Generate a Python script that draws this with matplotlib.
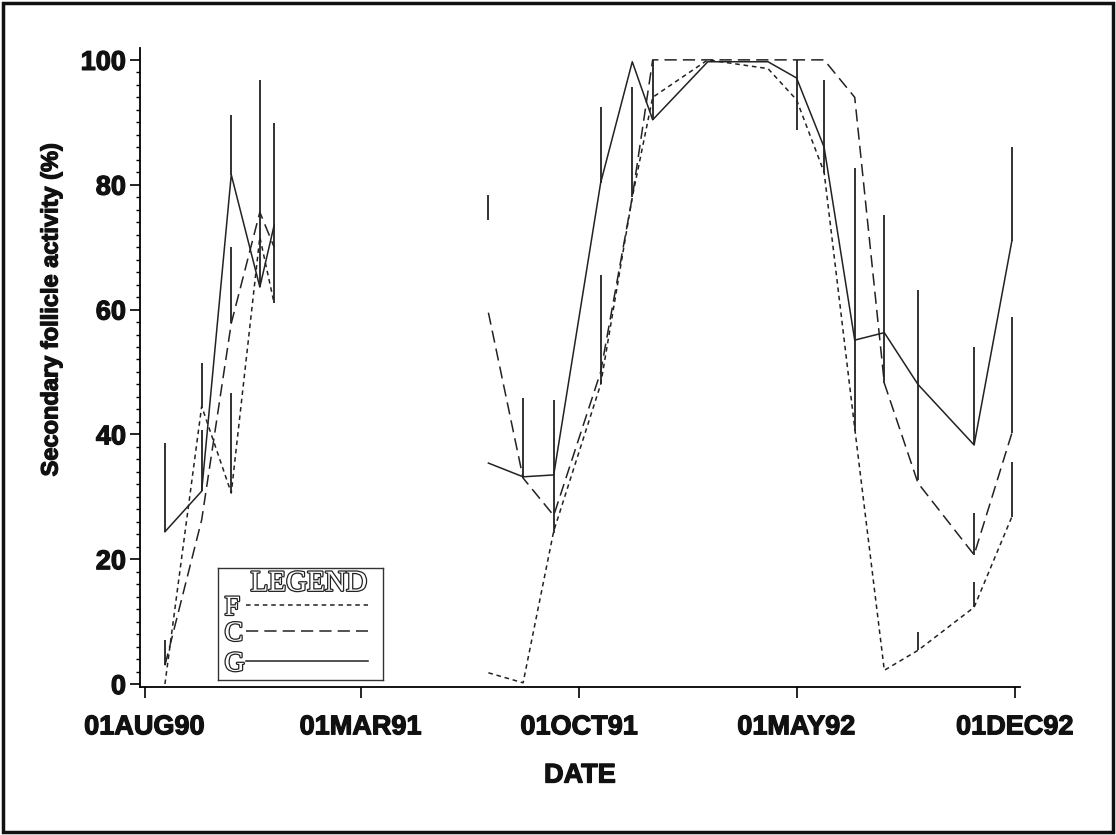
import matplotlib
matplotlib.use("Agg")
import matplotlib.pyplot as plt
import matplotlib.dates as mdates
import matplotlib.patheffects as pe
from matplotlib.patches import Rectangle
from matplotlib.ticker import MultipleLocator, FuncFormatter
import pandas as pd

# sampling dates (two sessions, lines are broken between them)
dates = pd.to_datetime([
    "1990-08-21", "1990-09-26", "1990-10-25", "1990-11-22", "1990-12-06",
    "1991-07-04", "1991-08-07", "1991-09-06", "1991-10-22", "1991-11-22",
    "1991-12-12", "1992-02-04", "1992-04-03", "1992-05-01", "1992-05-28",
    "1992-06-27", "1992-07-26", "1992-08-28", "1992-10-22", "1992-11-28",
])
session_split = 5

f_vals = [0, 44.5, 30.6, 71.6, 61,
          1.8, 0.2, 24.5, 48, 78, 94, 100, 98.6, 93.6, 82, 41, 2.2, 5.4, 12.3, 26.8]
c_vals = [3, 26.3, 57.8, 75.6, 70,
          59.5, 33, 27, 50, 78, 100, 100, 100, 100, 100, 94, 48.2, 32.2, 20.7, 40.2]
g_vals = [24.4, 30.9, 81.6, 63.6, 73.5,
          35.4, 33.2, 33.5, 80.3, 99.7, 90.4, 99.7, 99.7, 97.1, 86, 55.1, 56.3, 48, 38.3, 71]

# vertical error bars: index into dates, lower end, upper end
bar_idx = [0, 0, 1, 1, 2, 2, 2, 3, 4, 5, 6, 7, 8, 8, 9, 10, 13, 14, 15, 16,
           17, 17, 18, 18, 18, 19, 19, 19]
bar_lo = [24.4, 3, 30.9, 44.5, 81.6, 57.8, 30.6, 63.6, 61, 74.4,
          33, 24.2, 80.3, 48, 78, 90.4, 88.8, 81.9, 40.5, 48.2,
          32.7, 5.4, 38.3, 20.7, 12.3, 71, 40.2, 26.8]
bar_hi = [38.6, 7, 40.7, 51.4, 91.2, 70, 46.6, 96.8, 89.9, 78.4,
          45.8, 45.5, 92.5, 65.5, 95.7, 100, 100, 96.8, 82.7, 75.2,
          63.1, 8.3, 54, 27.4, 16.3, 86, 58.8, 35.6]

tick_dates = pd.to_datetime(["1990-08-01", "1991-03-01", "1991-10-01",
                             "1992-05-01", "1992-12-01"])

styles = {
    "F": dict(color="#222222", lw=1.1, dashes=(3, 2.5)),
    "C": dict(color="#222222", lw=1.1, dashes=(8, 4)),
    "G": dict(color="#222222", lw=1.1, ls="-"),
}
series = {"F": f_vals, "C": c_vals, "G": g_vals}

sans = ["Liberation Sans", "DejaVu Sans"]
serif = ["Liberation Serif", "DejaVu Serif"]
heavy = [pe.withStroke(linewidth=0.9, foreground="#111111")]

fig = plt.figure(figsize=(11.16, 8.35), dpi=100)
ax = fig.add_axes([0.1254, 0.1778, 0.7886, 0.7647])

for name, vals in series.items():
    ax.plot(dates[:session_split], vals[:session_split], **styles[name])
    ax.plot(dates[session_split:], vals[session_split:], **styles[name])

ax.vlines([dates[i] for i in bar_idx], bar_lo, bar_hi, color="#222222", lw=1.3)

ax.set_xlim(pd.Timestamp("1990-07-27 12:00"), pd.Timestamp("1992-12-06"))
ax.set_ylim(-0.4, 101.9)

ax.spines["top"].set_visible(False)
ax.spines["right"].set_visible(False)
ax.spines["left"].set_linewidth(1.3)
ax.spines["bottom"].set_linewidth(1.3)

ax.set_xticks(tick_dates)
ax.xaxis.set_major_formatter(FuncFormatter(
    lambda v, pos: mdates.num2date(v).strftime("%d%b%y").upper()))
ax.yaxis.set_major_locator(MultipleLocator(20))
ax.yaxis.set_minor_locator(MultipleLocator(2))
ax.tick_params(axis="x", length=8, width=1.2, pad=12)
ax.tick_params(axis="y", which="major", length=7, width=1.2, pad=3)
ax.tick_params(axis="y", which="minor", length=3, width=1)
for lab in ax.get_xticklabels() + ax.get_yticklabels():
    lab.set_family(sans)
    lab.set_fontweight("bold")
    lab.set_fontsize(19.5)
    lab.set_color("#111111")
    lab.set_path_effects(heavy)

ax.set_xlabel("DATE", family=sans, fontweight="bold", fontsize=19.5, labelpad=16,
              color="#111111", path_effects=heavy)
ax.set_ylabel("Secondary follicle activity (%)", family=sans, fontweight="bold",
              fontsize=17, color="#111111", path_effects=heavy)
ax.yaxis.set_label_coords(-0.088, 0.59)

# legend box drawn like the original SAS legend
lax = fig.add_axes([0.1953, 0.1856, 0.1478, 0.1341])
lax.set_xlim(0, 1)
lax.set_ylim(0, 1)
lax.set_xticks([])
lax.set_yticks([])
for sp in lax.spines.values():
    sp.set_linewidth(1.0)
    sp.set_color("#333333")
hollow = [pe.Stroke(linewidth=1.8, foreground="#222222"), pe.Normal()]
lax.text(0.55, 0.86, "LEGEND", ha="center", va="center", family=serif,
         fontsize=21, color="white", path_effects=hollow)
for name, y in zip(["F", "C", "G"], [0.64, 0.41, 0.14]):
    lax.text(0.04, y, name, ha="left", va="center", family=serif,
             fontsize=20, color="white", path_effects=hollow)
    lax.plot([0.17, 0.91], [y + 0.03, y + 0.03], **styles[name])

fig.patches.append(Rectangle((0.003, 0.004), 0.994, 0.992, transform=fig.transFigure,
                             fill=False, lw=2.5, edgecolor="#111111"))

fig.savefig("out.png", dpi=100)
